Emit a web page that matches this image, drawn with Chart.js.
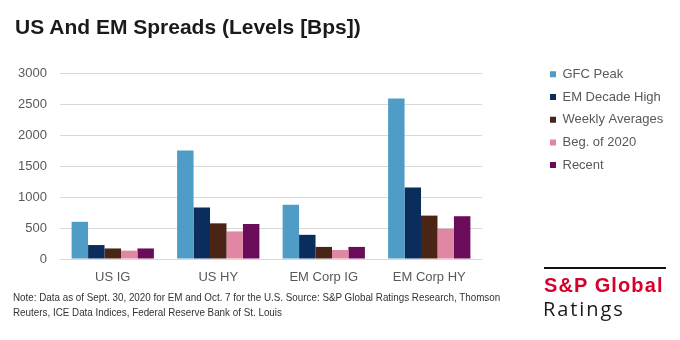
<!DOCTYPE html>
<html>
<head>
<meta charset="utf-8">
<script src="https://cdn.jsdelivr.net/npm/chart.js@4.4.0/dist/chart.umd.min.js"></script>
<style>
  html, body { margin: 0; padding: 0; background: #ffffff; }
  #wrap { position: relative; width: 680px; height: 340px; overflow: hidden; background: #fff; }
  #c { position: absolute; left: 0; top: 0; }
  .title { position: absolute; left: 15px; top: 15.5px; font: bold 21px "Liberation Sans", Arial, sans-serif; line-height: 21px; color: #1a1a1a; white-space: nowrap; }
  .note { position: absolute; left: 13px; top: 290px; font: 11px "Liberation Sans", Arial, sans-serif; line-height: 14.5px; color: #333; white-space: nowrap; transform: scaleX(0.894); transform-origin: 0 0; }
  .logo-line { position: absolute; left: 544px; top: 267px; width: 122px; height: 2px; background: #111; }
  .logo1 { position: absolute; left: 544px; top: 275px; font: bold 20px "Liberation Sans", Arial, sans-serif; line-height: 20px; letter-spacing: 1.1px; color: #d6002a; white-space: nowrap; }
  .logo2 { position: absolute; left: 543px; top: 297px; font: 400 20px "Open Sans", "Liberation Sans", sans-serif; line-height: 24px; letter-spacing: 1.9px; color: #1a1a1a; white-space: nowrap; }
</style>
</head>
<body>
<div id="wrap">
  <canvas id="c" width="680" height="340"></canvas>
  <div class="title">US And EM Spreads (Levels [Bps])</div>
  <div class="note">Note: Data as of Sept. 30, 2020 for EM and Oct. 7 for the U.S. Source: S&amp;P Global Ratings Research, Thomson<br>Reuters, ICE Data Indices, Federal Reserve Bank of St. Louis</div>
  <div class="logo-line"></div>
  <div class="logo1">S&amp;P Global</div>
  <div class="logo2">Ratings</div>
</div>
<script>
const categories = ["US IG", "US HY", "EM Corp IG", "EM Corp HY"];
const seriesNames = ["GFC Peak", "EM Decade High", "Weekly Averages", "Beg. of 2020", "Recent"];
const gfcPeak = [600, 1750, 875, 2590];
const emDecadeHigh = [225, 830, 390, 1155];
const weeklyAverages = [170, 575, 195, 700];
const begOf2020 = [135, 445, 145, 490];
const recent = [170, 565, 195, 690];
const yTicks = [0, 500, 1000, 1500, 2000, 2500, 3000];

const colors = ["#4f9cc6", "#0b2d5e", "#4a2516", "#e088a3", "#6a0c59"];
const seriesValues = [gfcPeak, emDecadeHigh, weeklyAverages, begOf2020, recent];

const legendMover = {
  id: 'legendMover',
  afterLayout(chart) {
    const lg = chart.legend;
    if (!lg) return;
    const w = lg.width, h = lg.height;
    lg.left = 540.3; lg.right = lg.left + w + 60;
    lg.top = 58.1; lg.bottom = lg.top + h;
  }
};

new Chart(document.getElementById('c'), {
  type: 'bar',
  data: {
    labels: categories,
    datasets: seriesNames.map((n, i) => ({
      label: n,
      data: seriesValues[i],
      backgroundColor: colors[i],
      borderWidth: 0,
      categoryPercentage: 0.78,
      barPercentage: 1.0
    }))
  },
  options: {
    responsive: false,
    animation: false,
    devicePixelRatio: 1,
    layout: { padding: { left: 10, top: 73, right: 98, bottom: 51 } },
    plugins: {
      title: { display: false },
      tooltip: { enabled: false },
      legend: {
        position: 'right',
        align: 'start',
        maxWidth: 100,
        labels: {
          boxWidth: 6,
          boxHeight: 6,
          padding: 9.7,
          color: '#595959',
          font: { family: '"Liberation Sans", Arial, sans-serif', size: 13 }
        }
      }
    },
    scales: {
      x: {
        grid: { display: false, drawTicks: false },
        border: { display: false },
        ticks: { color: '#595959', padding: 11, font: { family: '"Liberation Sans", Arial, sans-serif', size: 13 } },
        afterFit(s) { s.height = 30; }
      },
      y: {
        min: 0, max: 3000,
        afterBuildTicks(s) { s.ticks = yTicks.map(v => ({ value: v })); },
        grid: { color: '#d9d9d9', lineWidth: 1, drawTicks: false },
        border: { display: false },
        ticks: { color: '#595959', padding: 13, font: { family: '"Liberation Sans", Arial, sans-serif', size: 13 }, callback: (v) => String(v) },
        afterFit(s) { s.width = 50; }
      }
    }
  },
  plugins: [legendMover]
});
</script>
</body>
</html>
